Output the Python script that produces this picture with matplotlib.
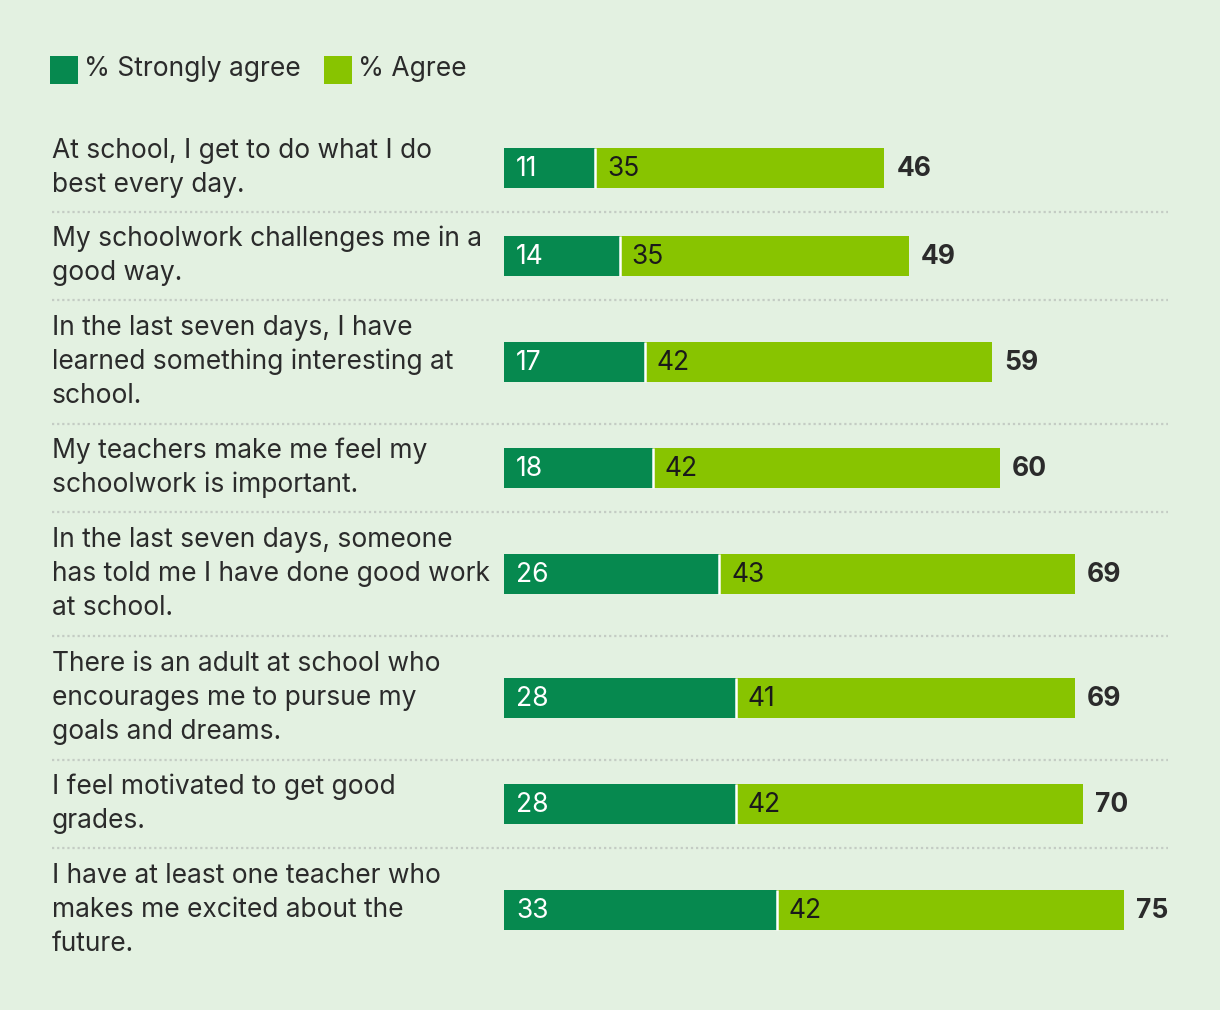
import matplotlib
matplotlib.use("Agg")
import matplotlib.pyplot as plt
from matplotlib.transforms import blended_transform_factory
from matplotlib.patches import Rectangle

plt.rcParams['font.family'] = ['Inter', 'DejaVu Sans']

statements = [
    "At school, I get to do what I do\nbest every day.",
    "My schoolwork challenges me in a\ngood way.",
    "In the last seven days, I have\nlearned something interesting at\nschool.",
    "My teachers make me feel my\nschoolwork is important.",
    "In the last seven days, someone\nhas told me I have done good work\nat school.",
    "There is an adult at school who\nencourages me to pursue my\ngoals and dreams.",
    "I feel motivated to get good\ngrades.",
    "I have at least one teacher who\nmakes me excited about the\nfuture.",
]
strongly_agree = [11, 14, 17, 18, 26, 28, 28, 33]
agree = [35, 35, 42, 42, 43, 41, 42, 42]
totals = [46, 49, 59, 60, 69, 69, 70, 75]
legend_labels = ["% Strongly agree", "% Agree"]

BG = "#E3F1E1"
DARK = "#06894F"
LIGHT = "#88C400"
TXT = "#2B2B2B"

W, H = 1220, 1010
fig = plt.figure(figsize=(W / 100, H / 100), dpi=100, facecolor=BG)
ax = fig.add_axes([0, 0, 1, 1])
ax.set_facecolor(BG)
ax.axis("off")

x0_px = 504
px_per_unit = 8.27
ax.set_xlim(-x0_px / px_per_unit, (W - x0_px) / px_per_unit)
ax.set_ylim(H, 0)

fs = 19
bar_h = 40
row_top = 124
tr = blended_transform_factory(ax.transAxes, ax.transData)

y = row_top
for i, (lab, sa, ag, tot) in enumerate(zip(statements, strongly_agree, agree, totals)):
    nlines = lab.count("\n") + 1
    rh = 88 if nlines <= 2 else 124
    yc = y + rh / 2
    ax.barh(yc, sa, height=bar_h, left=0, color=DARK, linewidth=0)
    ax.barh(yc, ag, height=bar_h, left=sa, color=LIGHT, linewidth=0)
    ax.plot([sa, sa], [yc - bar_h / 2, yc + bar_h / 2], color="white", lw=1.8, solid_capstyle="butt")
    off = 12 / px_per_unit
    ax.text(off, yc + 1, str(sa), color="white", fontsize=fs, va="center", ha="left")
    ax.text(sa + off, yc + 1, str(ag), color="#1a1a1a", fontsize=fs, va="center", ha="left")
    ax.text(sa + ag + off, yc + 1, str(tot), color=TXT, fontsize=fs, fontweight="bold", va="center", ha="left")
    ax.text(52 / W, yc, lab, transform=tr, color=TXT, fontsize=fs, va="center", ha="left", linespacing=1.38)
    y += rh
    if i < len(statements) - 1:
        ax.plot([52 / W, 1168 / W], [y, y], transform=tr, color="#C4CCC4", lw=1.6,
                linestyle=(0, (1, 1.3)))

# legend
for lx, tx, lab, col in [(50, 84, legend_labels[0], DARK), (324, 358, legend_labels[1], LIGHT)]:
    fig.patches.append(Rectangle((lx / W, 1 - 84 / H), 28 / W, 28 / H, transform=fig.transFigure,
                                 facecolor=col, edgecolor="none"))
    fig.text(tx / W, 1 - 69 / H, lab, color=TXT, fontsize=fs, va="center", ha="left")

fig.savefig("out.png", dpi=100, facecolor=BG)
